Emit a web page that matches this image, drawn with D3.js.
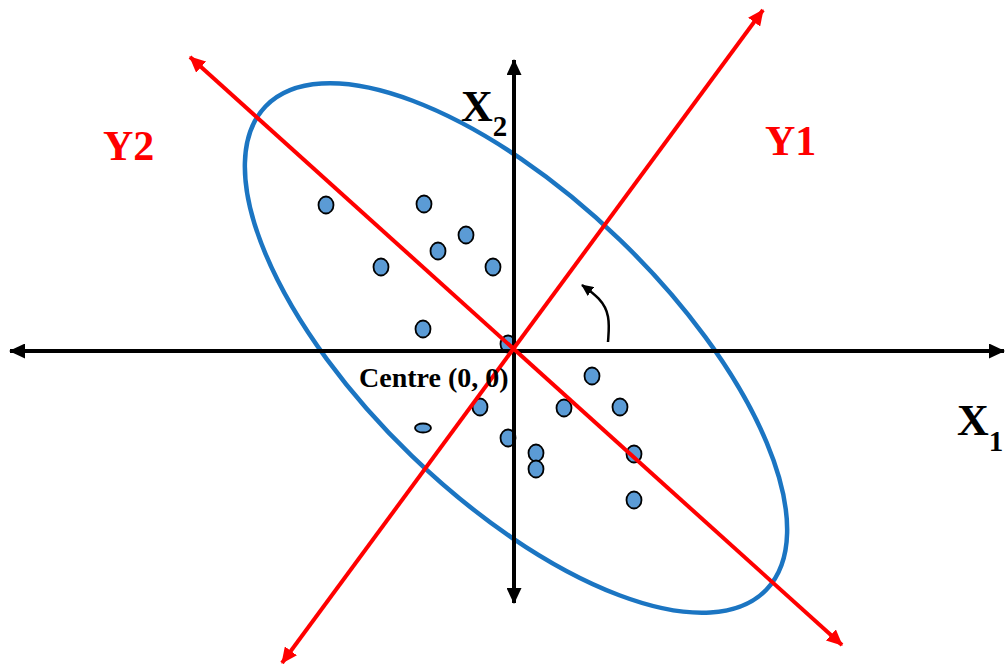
<!DOCTYPE html>
<html>
<head>
<meta charset="utf-8">
<script src="https://cdn.jsdelivr.net/npm/d3@7"></script>
<style>
  body { margin: 0; background: #fff; }
  svg { display: block; }
</style>
</head>
<body>
<div id="chart"></div>
<script>
// observations (x1, x2) in data units, centre of the axes is (0, 0)
const pointsX1 = [-18.7, -8.9, -4.7, -7.5, -13.2, -2.0, -9.0, -0.5, 7.9, -3.3, 5.1, 10.7, -0.5, 2.3, 2.3, 12.1, 12.1];
const pointsX2 = [14.6, 14.7, 11.6, 10.0, 8.4, 8.4, 2.2, 0.7, -2.5, -5.6, -5.7, -5.6, -8.7, -10.2, -11.8, -10.3, -14.9];
// one squashed point
const flatPoint = [-9.0, -7.7];

// original axes (start, end)
const axisX1 = [[-50.3, 0], [49.1, 0]];
const axisX2 = [[0.1, -25.2], [0.1, 29.1]];
// principal components
const axisY1 = [[-23.1, -31.2], [25.0, 34.1]];
const axisY2 = [[-32.3, 29.4], [32.9, -29.4]];

// spread ellipse: centre, semi axes, tilt (degrees)
const ellCentre = [0.3, 0.3];
const ellAxes = [34.8, 15.0];
const ellTilt = 44;

// rotation arrow
const rotArrow = [[9.5, 0.9], [9.7, 3.6], [8.7, 5.3], [6.9, 6.6]];

const W = 1006, H = 664;
const x = d3.scaleLinear().domain([-50, 50]).range([13, 1013]);
const y = d3.scaleLinear().domain([-35, 35]).range([701, 1]);
const unit = x(1) - x(0);

const svg = d3.select("#chart").append("svg")
  .attr("width", W)
  .attr("height", H);

const defs = svg.append("defs");
function marker(id, color, len, wid) {
  defs.append("marker")
    .attr("id", id)
    .attr("markerUnits", "userSpaceOnUse")
    .attr("viewBox", `0 0 ${len} ${wid}`)
    .attr("refX", len - 1)
    .attr("refY", wid / 2)
    .attr("markerWidth", len)
    .attr("markerHeight", wid)
    .attr("orient", "auto-start-reverse")
    .append("path")
    .attr("d", `M0,0L${len},${wid / 2}L0,${wid}Z`)
    .attr("fill", color);
}
marker("blk", "#000", 16, 15);
marker("red", "#ff0000", 16, 15);
marker("small", "#000", 12, 11);

const serif = "'Liberation Serif', 'Times New Roman', serif";

// points
const pts = pointsX1.map((v, i) => ({x1: v, x2: pointsX2[i]}));
svg.append("g").selectAll("ellipse")
  .data(pts)
  .join("ellipse")
  .attr("cx", d => x(d.x1))
  .attr("cy", d => y(d.x2))
  .attr("rx", 7.5)
  .attr("ry", 8.5)
  .attr("fill", "#5b9bd5")
  .attr("stroke", "#000")
  .attr("stroke-width", 1.8);

svg.append("ellipse")
  .attr("cx", x(flatPoint[0]))
  .attr("cy", y(flatPoint[1]))
  .attr("rx", 8)
  .attr("ry", 4.5)
  .attr("fill", "#5b9bd5")
  .attr("stroke", "#000")
  .attr("stroke-width", 1.8);

// ellipse
svg.append("ellipse")
  .attr("transform", `translate(${x(ellCentre[0])},${y(ellCentre[1])}) rotate(${ellTilt})`)
  .attr("rx", ellAxes[0] * unit)
  .attr("ry", ellAxes[1] * unit)
  .attr("fill", "none")
  .attr("stroke", "#1b75c2")
  .attr("stroke-width", 4.5);

const line = d3.line().x(d => x(d[0])).y(d => y(d[1]));

// black axes, arrow on both ends
[axisX1, axisX2].forEach(a => {
  svg.append("path")
    .attr("d", line(a))
    .attr("stroke", "#000")
    .attr("stroke-width", 4)
    .attr("fill", "none")
    .attr("marker-start", "url(#blk)")
    .attr("marker-end", "url(#blk)");
});

// red component axes
[axisY1, axisY2].forEach(a => {
  svg.append("path")
    .attr("d", line(a))
    .attr("stroke", "#ff0000")
    .attr("stroke-width", 4)
    .attr("fill", "none")
    .attr("marker-start", "url(#red)")
    .attr("marker-end", "url(#red)");
});

// rotation arrow
svg.append("path")
  .attr("d", d3.line().curve(d3.curveBasis).x(d => x(d[0])).y(d => y(d[1]))(rotArrow))
  .attr("stroke", "#000")
  .attr("stroke-width", 2.5)
  .attr("fill", "none")
  .attr("marker-end", "url(#small)");

// labels
svg.append("text")
  .attr("x", 359).attr("y", 387)
  .attr("font-family", serif)
  .attr("font-weight", "bold")
  .attr("font-size", 28)
  .text("Centre (0, 0)");

svg.append("text")
  .attr("x", 103).attr("y", 160)
  .attr("font-family", serif)
  .attr("font-weight", "bold")
  .attr("font-size", 42)
  .attr("fill", "#ff0000")
  .text("Y2");

svg.append("text")
  .attr("x", 765).attr("y", 155)
  .attr("font-family", serif)
  .attr("font-weight", "bold")
  .attr("font-size", 42)
  .attr("fill", "#ff0000")
  .text("Y1");

function subLabel(tx, ty, main, sub, dx, dy) {
  const t = svg.append("text")
    .attr("x", tx).attr("y", ty)
    .attr("font-family", serif)
    .attr("font-weight", "bold")
    .attr("font-size", 44);
  t.append("tspan").text(main);
  t.append("tspan").attr("dx", dx).attr("dy", dy).attr("font-size", 29).text(sub);
}
subLabel(461, 121, "X", "2", 0, 15);
subLabel(957, 435, "X", "1", 0, 16);
</script>
</body>
</html>
